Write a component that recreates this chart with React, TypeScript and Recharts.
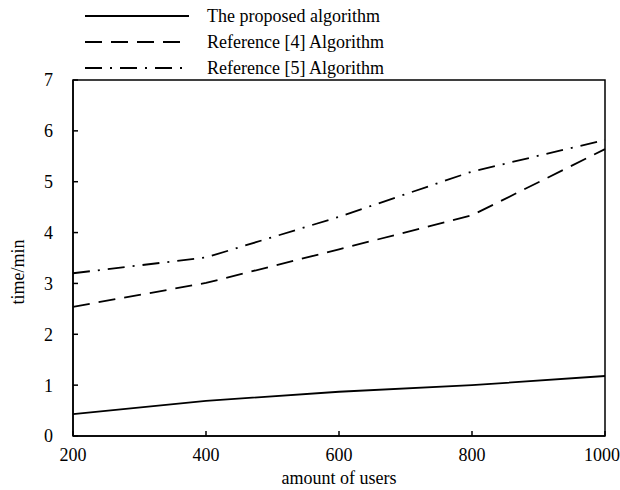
import React from "react"
import {
  LineChart,
  Line,
  XAxis,
  YAxis,
  Legend,
  ReferenceArea,
} from "recharts"

const FONT = '"Liberation Serif", "Times New Roman", serif'

// x categories (amount of users)
const users = [200, 400, 600, 800, 1000]
// time in minutes
const proposed = [0.43, 0.69, 0.87, 1.0, 1.18]
const ref4 = [2.54, 3.01, 3.67, 4.34, 5.64]
const ref5 = [3.2, 3.51, 4.31, 5.2, 5.82]
const yTicks = [0, 1, 2, 3, 4, 5, 6, 7]

const SERIES = [
  { key: "proposed", name: "The proposed algorithm", dash: undefined as string | undefined },
  { key: "ref4", name: "Reference [4] Algorithm", dash: "17 9" },
  { key: "ref5", name: "Reference [5] Algorithm", dash: "17 8 2 8" },
]

const data = users.map((u, i) => ({
  users: u,
  proposed: proposed[i],
  ref4: ref4[i],
  ref5: ref5[i],
}))

function LegendBox() {
  return (
    <div style={{ fontFamily: FONT, fontSize: 18, color: "#000" }}>
      {SERIES.map((s) => (
        <div key={s.key} style={{ display: "flex", alignItems: "center", height: 26 }}>
          <svg width={106} height={10}>
            <line
              x1={1}
              x2={105}
              y1={5}
              y2={5}
              stroke="#000"
              strokeWidth={2}
              strokeDasharray={s.dash}
            />
          </svg>
          <span style={{ marginLeft: 17 }}>{s.name}</span>
        </div>
      ))}
    </div>
  )
}

function YLabel(props: any) {
  const vb = props.viewBox || {}
  const cx = 18
  const cy = vb.y + vb.height / 2 + 14
  return (
    <text
      x={cx}
      y={cy}
      transform={`rotate(-90, ${cx}, ${cy})`}
      textAnchor="middle"
      dominantBaseline="central"
      fontFamily={FONT}
      fontSize={18}
      fill="#000"
    >
      time/min
    </text>
  )
}

export default function App() {
  const tickStyle = { fontFamily: FONT, fontSize: 18, fill: "#000" }
  return (
    <div style={{ position: "absolute", left: 0, top: 0, background: "#fff" }}>
      <LineChart
        width={620}
        height={490}
        data={data}
        margin={{ top: 80, right: 15, left: 0, bottom: 0 }}
      >
        <XAxis
          dataKey="users"
          type="number"
          domain={[users[0], users[users.length - 1]]}
          ticks={users}
          height={54}
          tickSize={-5}
          tickMargin={17}
          tick={tickStyle}
          axisLine={{ stroke: "#000", strokeWidth: 1.5 }}
          tickLine={{ stroke: "#000", strokeWidth: 1.5 }}
          label={{
            value: "amount of users",
            position: "insideBottom",
            offset: 6,
            style: { fontFamily: FONT, fontSize: 18, fill: "#000" },
          }}
        />
        <YAxis
          type="number"
          domain={[yTicks[0], yTicks[yTicks.length - 1]]}
          ticks={yTicks}
          width={73}
          tickSize={-5}
          tickMargin={25}
          tick={tickStyle}
          axisLine={{ stroke: "#000", strokeWidth: 1.5 }}
          tickLine={{ stroke: "#000", strokeWidth: 1.5 }}
          label={<YLabel />}
        />
        <ReferenceArea
          x1={users[0]}
          x2={users[users.length - 1]}
          y1={yTicks[0]}
          y2={yTicks[yTicks.length - 1]}
          fill="none"
          stroke="#000"
          strokeWidth={1.5}
          fillOpacity={0}
        />
        <Legend
          layout="horizontal"
          verticalAlign="middle"
          align="center"
          wrapperStyle={{ top: 3, left: 84, width: 380 }}
          content={() => <LegendBox />}
        />
        {SERIES.map((s) => (
          <Line
            key={s.key}
            type="linear"
            dataKey={s.key}
            name={s.name}
            stroke="#000"
            strokeWidth={1.8}
            strokeDasharray={s.dash}
            dot={false}
            activeDot={false}
            isAnimationActive={false}
          />
        ))}
      </LineChart>
    </div>
  )
}
